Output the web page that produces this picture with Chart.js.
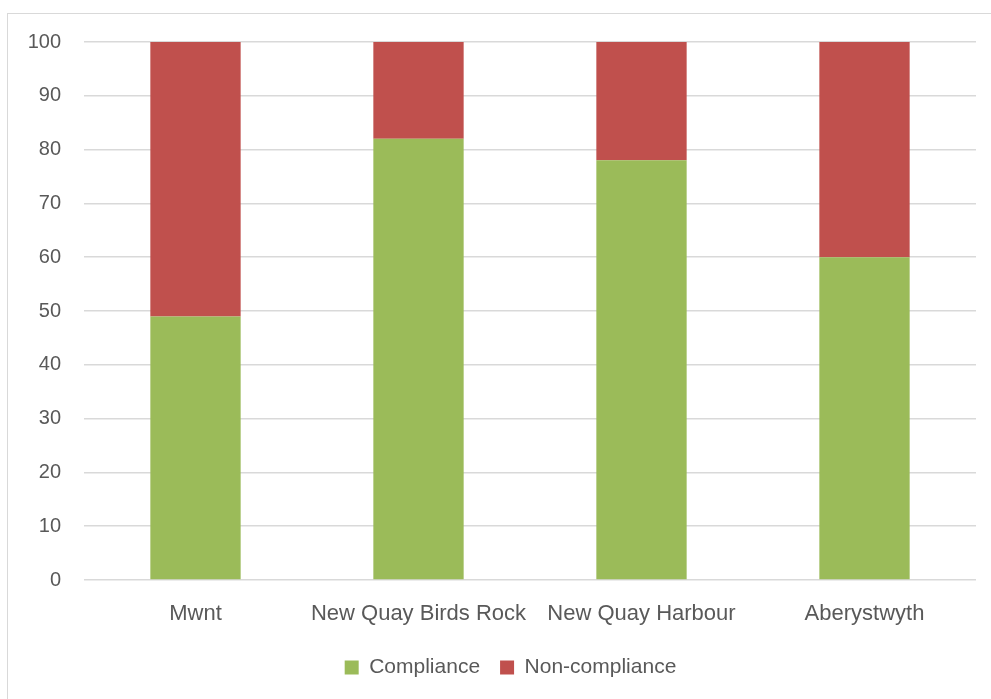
<!DOCTYPE html>
<html>
<head>
<meta charset="utf-8">
<title>Compliance by site</title>
<script src="https://cdn.jsdelivr.net/npm/chart.js@4.4.0/dist/chart.umd.min.js"></script>
<style>
  html, body { margin: 0; padding: 0; background: #fff; overflow: hidden; }
  #frame {
    position: absolute; left: 7px; top: 13px;
    width: 1100px; height: 800px;
    border: 1px solid #d9d9d9;
  }
  #wrap { position: absolute; left: 0; top: 0; width: 991px; height: 699px; }
</style>
</head>
<body>
<div id="frame"></div>
<div id="wrap"><canvas id="my-chart" width="991" height="699"></canvas></div>
<script>
'use strict';

// *** Data ***

let sites = ['Mwnt', 'New Quay Birds Rock', 'New Quay Harbour', 'Aberystwyth'];
let compliance = [49, 82, 78, 60];
let nonCompliance = [51, 18, 22, 40];
let yTicks = [0, 10, 20, 30, 40, 50, 60, 70, 80, 90, 100];

// *** Chart ***

let ctx = document.getElementById('my-chart');
let textColor = '#595959';
let font = 'Liberation Sans, Arial, sans-serif';

// Legend sits centred under the plot rather than the whole canvas
let legendShift = {
  id: 'legendShift',
  afterLayout(chart) {
    if (chart.legend) {
      chart.legend.left = 45;
    }
  }
};

let chartObj = {
  type: 'bar',
  data: {
    labels: sites,
    datasets: [{
      label: 'Compliance',
      data: compliance,
      backgroundColor: '#9bbb59',
      borderWidth: 0
    },
    {
      label: 'Non-compliance',
      data: nonCompliance,
      backgroundColor: '#c0504d',
      borderWidth: 0
    }]
  },
  options: {
    responsive: false,
    animation: false,
    layout: {
      padding: { left: 0, right: 15, top: 42, bottom: 11 }
    },
    datasets: {
      bar: { categoryPercentage: 1, barPercentage: 0.405 }
    },
    plugins: {
      tooltip: { enabled: false },
      legend: {
        position: 'bottom',
        labels: {
          boxWidth: 14,
          boxHeight: 14,
          padding: 20,
          color: textColor,
          font: { family: font, size: 21 }
        }
      }
    },
    scales: {
      x: {
        stacked: true,
        grid: { display: false },
        border: { display: false },
        ticks: {
          color: textColor,
          padding: 13,
          maxRotation: 0,
          font: { family: font, size: 22 }
        },
        afterFit: function (scale) { scale.height = 57; }
      },
      y: {
        stacked: true,
        min: 0,
        max: 100,
        afterBuildTicks: function (scale) {
          scale.ticks = yTicks.map(v => ({ value: v }));
        },
        afterFit: function (scale) { scale.width = 84; },
        grid: { color: '#d9d9d9', lineWidth: 1.5, drawTicks: false },
        border: { display: false },
        ticks: {
          color: textColor,
          padding: 23,
          font: { family: font, size: 20 }
        }
      }
    }
  },
  plugins: [legendShift]
};

new Chart(ctx, chartObj);
</script>
</body>
</html>
